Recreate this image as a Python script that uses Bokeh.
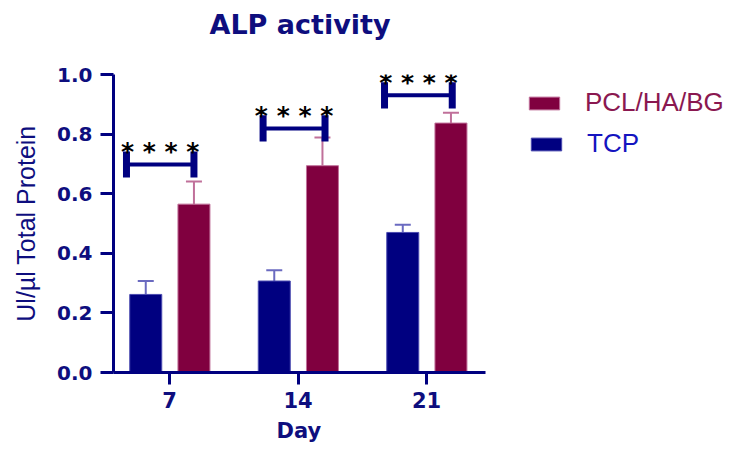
from bokeh.plotting import figure
from bokeh.models import (ColumnDataSource, Range1d, FixedTicker, Whisker, TeeHead,
                          Legend, LegendItem, Title)
from bokeh.core.properties import value
from bokeh.embed import file_html
from bokeh.resources import INLINE

# ---- data ----
days = ["7", "14", "21"]
tcp = [0.262, 0.307, 0.470]
tcp_err = [0.045, 0.036, 0.026]
pcl = [0.565, 0.694, 0.837]
pcl_err = [0.076, 0.095, 0.035]
y_ticks = [0.0, 0.2, 0.4, 0.6, 0.8, 1.0]
sig_label = "* * * *"
# significance bracket annotation spans (relative to each day's slot)
bracket_left = [-0.335, -0.272, -0.327]
bracket_right = [0.19, 0.21, 0.20]
bracket_y = [0.698, 0.819, 0.930]

NAVY = "#000080"
MAROON = "#80003f"
TXT = "#0e0e7e"

idx = list(range(len(days)))
off_tcp, off_pcl, bw = -0.185, 0.19, 0.249
x_start, x_axis_end = -0.436, 2.459

src_tcp = ColumnDataSource(dict(x=[i + off_tcp for i in idx], top=tcp,
                                upper=[t + e for t, e in zip(tcp, tcp_err)]))
src_pcl = ColumnDataSource(dict(x=[i + off_pcl for i in idx], top=pcl,
                                upper=[t + e for t, e in zip(pcl, pcl_err)]))

p = figure(width=747, height=450, output_backend="svg", toolbar_location=None,
           x_range=Range1d(x_start, 4.482), y_range=Range1d(0, 1.0),
           min_border_left=113, min_border_right=2, min_border_top=74,
           min_border_bottom=78)
p.outline_line_color = None
p.xgrid.visible = False
p.ygrid.visible = False
p.background_fill_color = "white"
p.border_fill_color = "white"
p.title.visible = False

# title: a spacer next to the frame, then the title text above it
p.add_layout(Title(text=" ", text_font_size="1px", standoff=32), "above")
p.add_layout(Title(text="ALP activity", align="left", offset=96, standoff=0,
                   text_font="DejaVu Sans", text_font_style="bold",
                   text_font_size="27px", text_color=TXT), "above")

r_tcp = p.vbar(x="x", top="top", width=bw, source=src_tcp, fill_color=NAVY,
               line_color="#4a4ab0", line_width=1)
r_pcl = p.vbar(x="x", top="top", width=bw, source=src_pcl, fill_color=MAROON,
               line_color="#c0709a", line_width=1)

p.add_layout(Whisker(source=src_tcp, base="x", upper="upper", lower="top",
                     dimension="height", line_color="#6a6ac0", line_width=2,
                     upper_head=TeeHead(size=16, line_color="#6a6ac0", line_width=2),
                     lower_head=None))
p.add_layout(Whisker(source=src_pcl, base="x", upper="upper", lower="top",
                     dimension="height", line_color="#c0709a", line_width=2,
                     upper_head=TeeHead(size=16, line_color="#c0709a", line_width=2),
                     lower_head=None))

# significance brackets
bl = [i + o for i, o in zip(idx, bracket_left)]
br = [i + o for i, o in zip(idx, bracket_right)]
hh = 0.044
p.segment(x0=bl, x1=br, y0=bracket_y, y1=bracket_y, line_color=NAVY, line_width=4)
p.segment(x0=bl, x1=bl, y0=[y - hh for y in bracket_y], y1=[y + hh for y in bracket_y],
          line_color=NAVY, line_width=7)
p.segment(x0=br, x1=br, y0=[y - hh for y in bracket_y], y1=[y + hh for y in bracket_y],
          line_color=NAVY, line_width=7)
p.text(x=[(a + b) / 2 for a, b in zip(bl, br)], y=[y + 0.042 for y in bracket_y],
       text=[sig_label] * len(days), text_align="center", text_baseline="alphabetic",
       text_font=value("DejaVu Sans"), text_font_style="bold", text_font_size="25px",
       text_color="black")

# axes
for ax in (p.xaxis[0], p.yaxis[0]):
    ax.axis_line_color = NAVY
    ax.axis_line_width = 3
    ax.major_tick_line_color = NAVY
    ax.major_tick_line_width = 3
    ax.major_tick_in = 0
    ax.minor_tick_line_color = None
    ax.major_label_text_color = TXT
    ax.major_label_text_font = "DejaVu Sans"
    ax.major_label_text_font_style = "bold"
    ax.axis_label_text_color = TXT

p.yaxis.ticker = FixedTicker(ticks=y_ticks)
p.yaxis.major_label_overrides = {t: f"{t:.1f}" for t in y_ticks}
p.yaxis.major_tick_out = 13
p.yaxis.major_label_text_font_size = "20px"
p.yaxis.major_label_standoff = 8
p.yaxis.axis_label = "Ul/µl Total Protein"
p.yaxis.axis_label_text_font = "Liberation Sans"
p.yaxis.axis_label_text_font_style = "normal"
p.yaxis.axis_label_text_font_size = "25px"
p.yaxis.axis_label_standoff = 14

p.xaxis.bounds = (x_start, x_axis_end)
p.xaxis.ticker = FixedTicker(ticks=idx)
p.xaxis.major_label_overrides = {i: d for i, d in zip(idx, days)}
p.xaxis.major_tick_out = 12
p.xaxis.major_label_text_font_size = "21px"
p.xaxis.major_label_standoff = 7

# x-axis title, centred under the bounded axis
p.add_layout(Title(text="Day", align="left", offset=276 - 113, standoff=12,
                   text_font="DejaVu Sans", text_font_style="bold",
                   text_font_size="21px", text_color=TXT), "below")

# legends (one per item for distinct text colours)
for label, rend, col, loc in (("PCL/HA/BG", r_pcl, "#8a1850", (412, 254)),
                              ("TCP", r_tcp, "#1414c0", (414, 213))):
    leg = Legend(items=[LegendItem(label=label, renderers=[rend])], location=loc,
                 glyph_width=38, glyph_height=16, label_standoff=22,
                 label_text_font="Liberation Sans", label_text_font_size="26px",
                 label_text_color=col, padding=0, margin=0,
                 border_line_color=None, background_fill_alpha=0)
    p.add_layout(leg)

open("out.html", "w").write(file_html(p, INLINE))
